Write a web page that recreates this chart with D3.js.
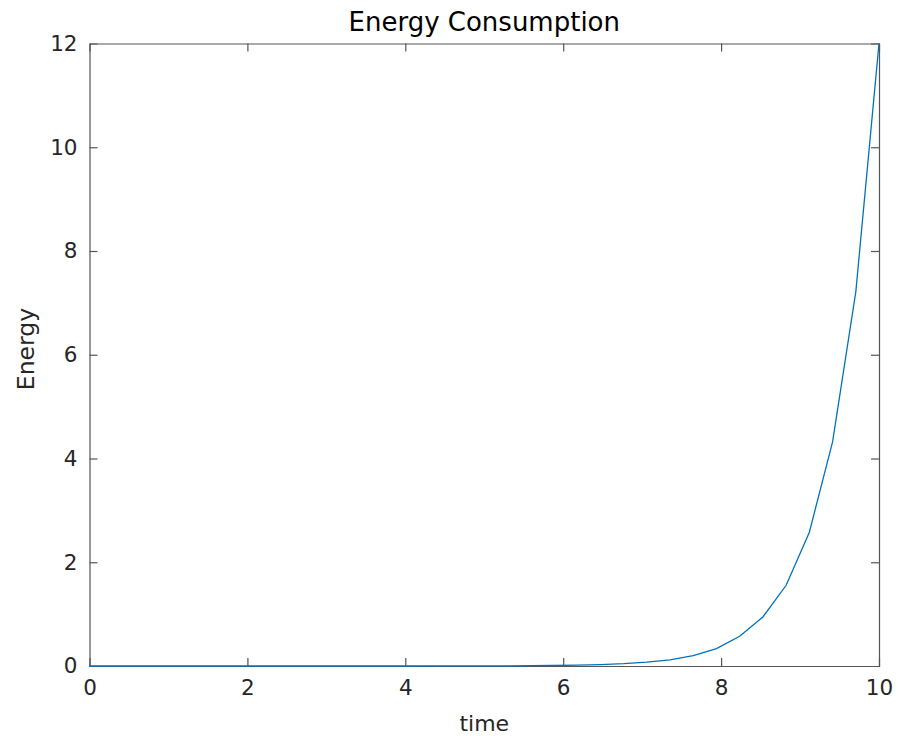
<!DOCTYPE html>
<html>
<head>
<meta charset="utf-8">
<script src="https://cdn.jsdelivr.net/npm/d3@7"></script>
<style>
  body { margin: 0; background: #fff; }
  svg { display: block; }
  .tick text { font-family: "DejaVu Sans", sans-serif; fill: #262626; }
</style>
</head>
<body>
<div id="chart"></div>
<script>
// sample times (35 samples from 0 to 10)
const timeValues = [0, 0.294, 0.588, 0.882, 1.176, 1.471, 1.765, 2.059, 2.353, 2.647,
  2.941, 3.235, 3.529, 3.824, 4.118, 4.412, 4.706, 5.0, 5.294, 5.588,
  5.882, 6.176, 6.471, 6.765, 7.059, 7.353, 7.647, 7.941, 8.235, 8.529,
  8.824, 9.118, 9.412, 9.706, 10];
// energy
const energyValues = [0, 0, 0, 0, 0, 0, 0, 0, 0, 0,
  0, 0, 0, 0, 0, 0.001, 0.001, 0.002, 0.003, 0.006,
  0.01, 0.016, 0.026, 0.044, 0.073, 0.12, 0.2, 0.335, 0.573, 0.945,
  1.556, 2.58, 4.32, 7.21, 12];
const xTicks = [0, 2, 4, 6, 8, 10];
const yTicks = [0, 2, 4, 6, 8, 10, 12];

const W = 899, H = 738;
const margin = {top: 43.5, right: 20, bottom: 72, left: 89.5};
const width = W - margin.left - margin.right,
      height = H - margin.top - margin.bottom;

const svg = d3.select("#chart").append("svg")
  .attr("width", W).attr("height", H);

const g = svg.append("g")
  .attr("transform", `translate(${margin.left},${margin.top})`);

const x = d3.scaleLinear().domain([0, 10]).range([0, width]);
const y = d3.scaleLinear().domain([0, 12]).range([height, 0]);

const axisColor = "#555";

// four boxed axes, ticks pointing inward
const axBottom = g.append("g").attr("transform", `translate(0,${height})`)
  .call(d3.axisBottom(x).tickValues(xTicks).tickSize(-8).tickPadding(14));
const axTop = g.append("g")
  .call(d3.axisTop(x).tickValues(xTicks).tickSize(-8).tickFormat(""));
const axLeft = g.append("g")
  .call(d3.axisLeft(y).tickValues(yTicks).tickSize(-8).tickPadding(12));
const axRight = g.append("g").attr("transform", `translate(${width},0)`)
  .call(d3.axisRight(y).tickValues(yTicks).tickSize(-8).tickFormat(""));

[axBottom, axTop, axLeft, axRight].forEach(a => {
  a.select(".domain").attr("stroke", axisColor).attr("stroke-width", 1.2);
  a.selectAll(".tick line").attr("stroke", axisColor).attr("stroke-width", 1.2);
  a.selectAll(".tick text").style("font-size", "21.5px");
});
axTop.selectAll(".tick").filter(d => d === 0 || d === 10).remove();
axRight.selectAll(".tick").filter(d => d === 0 || d === 12).remove();
axBottom.selectAll(".tick line").filter(d => d === 0 || d === 10).remove();
axLeft.selectAll(".tick line").filter(d => d === 0 || d === 12).remove();

// line
const data = timeValues.map((t, i) => ({t: t, e: energyValues[i]}));
g.append("path")
  .datum(data)
  .attr("fill", "none")
  .attr("stroke", "#0072BD")
  .attr("stroke-width", 1.3)
  .attr("d", d3.line().x(d => x(d.t)).y(d => y(d.e)));

// labels
svg.append("text")
  .attr("x", margin.left + width / 2).attr("y", 31)
  .attr("text-anchor", "middle")
  .style("font-family", "'DejaVu Sans', sans-serif")
  .style("font-size", "26px")
  .style("fill", "#000")
  .text("Energy Consumption");

svg.append("text")
  .attr("x", margin.left + width / 2).attr("y", 731)
  .attr("text-anchor", "middle")
  .style("font-family", "'DejaVu Sans', sans-serif")
  .style("font-size", "22px")
  .style("fill", "#262626")
  .text("time");

svg.append("text")
  .attr("transform", "translate(34,349) rotate(-90)")
  .attr("text-anchor", "middle")
  .style("font-family", "'DejaVu Sans', sans-serif")
  .style("font-size", "23.5px")
  .style("fill", "#262626")
  .text("Energy");
</script>
</body>
</html>
